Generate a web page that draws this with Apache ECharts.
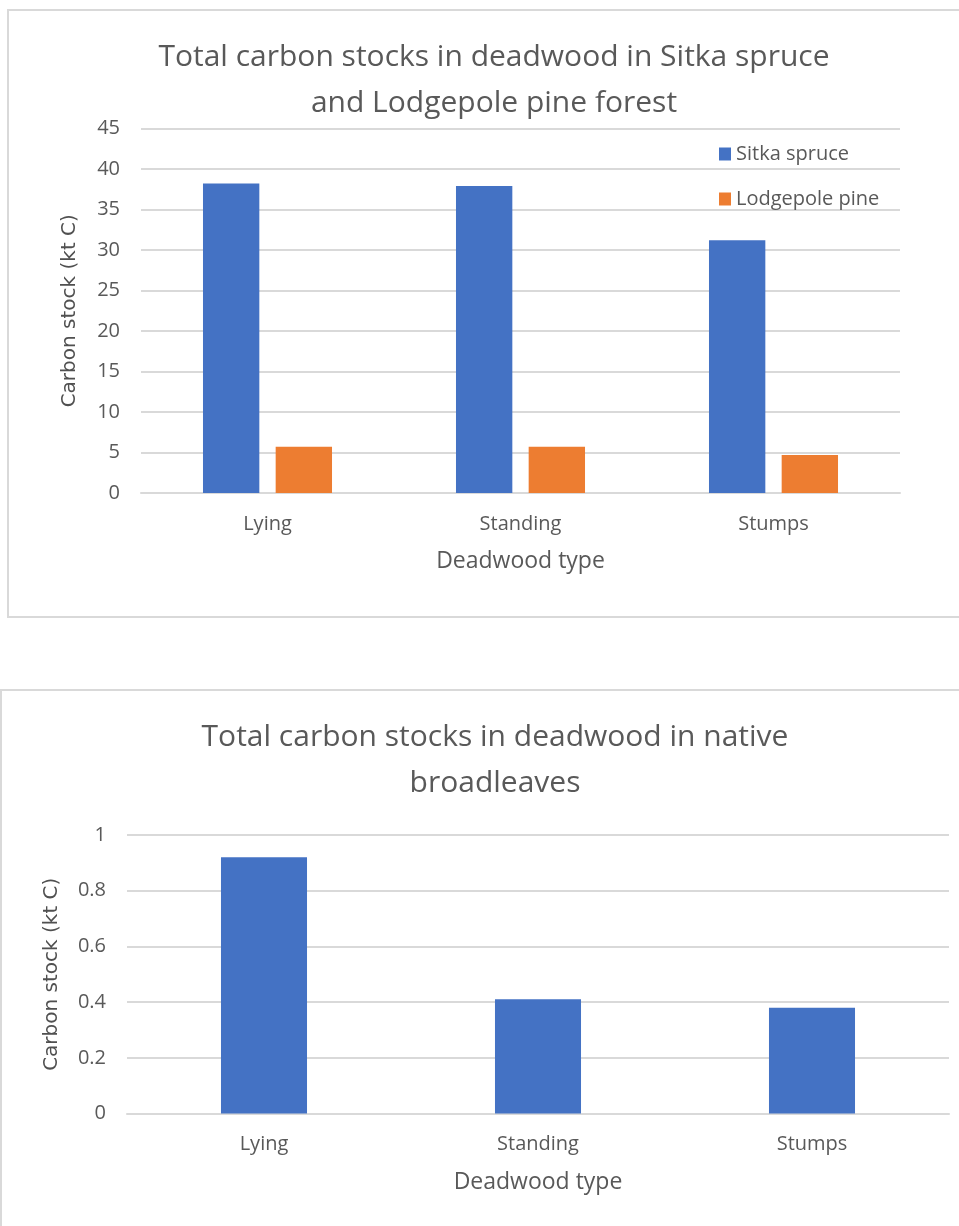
<!DOCTYPE html>
<html>
<head>
<meta charset="utf-8">
<script src="https://cdn.jsdelivr.net/npm/echarts@6/dist/echarts.min.js"></script>
<style>
html,body{margin:0;padding:0;background:#fff;}
#c{width:959px;height:1226px;}
</style>
</head>
<body>
<div id="c"></div>
<script>
const categories = ['Lying', 'Standing', 'Stumps'];
const sitkaSpruce = [38.2, 37.9, 31.2];
const lodgepolePine = [5.7, 5.7, 4.7];
const nativeBroadleaves = [0.92, 0.41, 0.38];
const title1 = 'Total carbon stocks in deadwood in Sitka spruce\nand Lodgepole pine forest';
const title2 = 'Total carbon stocks in deadwood in native\nbroadleaves';
const xName = 'Deadwood type';
const yName = 'Carbon stock (kt C)';

const FONT = 'Open Sans';
const TXT = '#595959';
const GRID = '#d9d9d9';

const chart = echarts.init(document.getElementById('c'), null, {renderer: 'canvas'});

function xAxisCfg(gridIndex) {
  return {
    type: 'category', gridIndex, data: categories,
    axisLine: {lineStyle: {color: GRID, width: 2}},
    axisTick: {show: false},
    axisLabel: {color: TXT, fontFamily: FONT, fontSize: 20, margin: 21},
    name: xName, nameLocation: 'middle', nameGap: 57,
    nameTextStyle: {color: TXT, fontFamily: FONT, fontSize: 23}
  };
}
function yAxisCfg(gridIndex, max, interval, nameGap) {
  return {
    type: 'value', gridIndex, min: 0, max, interval,
    axisLine: {show: false}, axisTick: {show: false},
    splitLine: {lineStyle: {color: GRID, width: 2}},
    axisLabel: {color: TXT, fontFamily: FONT, fontSize: 20, margin: 21},
    name: yName, nameLocation: 'middle', nameGap, nameRotate: 90,
    nameTextStyle: {color: '#505050', fontFamily: 'DejaVu Sans', fontSize: 20}
  };
}

chart.setOption({
  animation: false,
  backgroundColor: '#fff',
  graphic: [
    {type: 'rect', shape: {x: 8, y: 10, width: 1000, height: 607}, style: {fill: 'none', stroke: GRID, lineWidth: 2}},
    {type: 'rect', shape: {x: 1, y: 690, width: 1000, height: 600}, style: {fill: 'none', stroke: GRID, lineWidth: 2}}
  ],
  title: [
    {text: title1, left: 489, top: 29, textAlign: 'center',
     textStyle: {color: TXT, fontFamily: FONT, fontSize: 30, fontWeight: 'normal', lineHeight: 46}},
    {text: title2, left: 490, top: 709, textAlign: 'center',
     textStyle: {color: TXT, fontFamily: FONT, fontSize: 30, fontWeight: 'normal', lineHeight: 46}}
  ],
  legend: {
    data: ['Sitka spruce', 'Lodgepole pine'],
    orient: 'vertical', left: 714, top: 139,
    itemWidth: 12, itemHeight: 13, itemGap: 25,
    icon: 'rect',
    textStyle: {color: TXT, fontFamily: FONT, fontSize: 20, lineHeight: 20}
  },
  grid: [
    {left: 141, right: 59, top: 128.5, bottom: 733},
    {left: 127, right: 10, top: 835, bottom: 112.5}
  ],
  xAxis: [xAxisCfg(0), xAxisCfg(1)],
  yAxis: [yAxisCfg(0, 45, 5, 61), yAxisCfg(1, 1, 0.2, 65)],
  series: [
    {name: 'Sitka spruce', type: 'bar', xAxisIndex: 0, yAxisIndex: 0, data: sitkaSpruce,
     itemStyle: {color: '#4472c4'}, barGap: '29%', barCategoryGap: '49%'},
    {name: 'Lodgepole pine', type: 'bar', xAxisIndex: 0, yAxisIndex: 0, data: lodgepolePine,
     itemStyle: {color: '#ed7d31'}, barGap: '29%', barCategoryGap: '49%'},
    {name: 'Native broadleaves', type: 'bar', xAxisIndex: 1, yAxisIndex: 1, data: nativeBroadleaves,
     itemStyle: {color: '#4472c4'}, barCategoryGap: '68.6%'}
  ]
});
</script>
</body>
</html>
